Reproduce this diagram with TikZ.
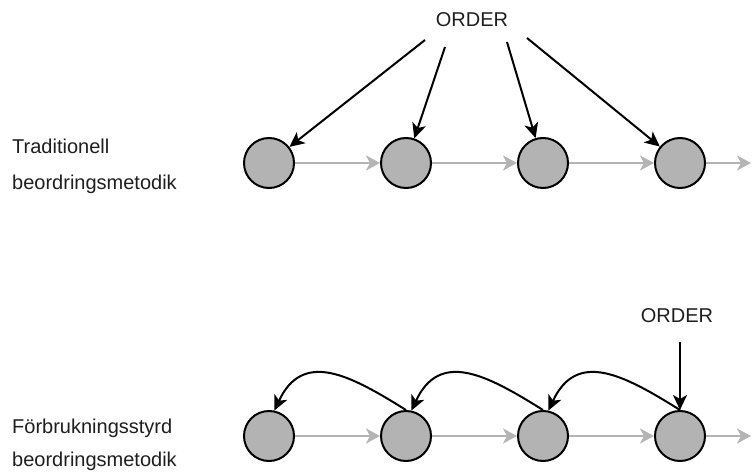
\documentclass[tikz,border=0pt]{standalone}
\usepackage{fontspec}
\setmainfont{Liberation Sans}
\usetikzlibrary{arrows.meta}
\definecolor{discfill}{HTML}{B3B3B3}
\definecolor{flowgray}{HTML}{B4B4B4}
\definecolor{inktext}{HTML}{1E1E1E}
\begin{document}
\begin{tikzpicture}[x=1pt,y=1pt,
  disc/.style={circle,draw=black,line width=2pt,fill=discfill,minimum size=50pt,inner sep=0pt},
  flow/.style={draw=flowgray,line width=2.4pt,-{Stealth[length=14pt,width=15pt,inset=4pt]}},
  order/.style={draw=black,line width=2pt,-{Stealth[length=15pt,width=14pt,inset=4pt]}},
  label/.style={font=\fontsize{20}{24}\selectfont,text=inktext,inner sep=0pt,anchor=base west},
  ordertext/.style={font=\fontsize{20}{24}\selectfont,text=inktext,inner sep=0pt,anchor=base}]
\useasboundingbox (0,0) rectangle (752,472);

% upper chain: traditional ordering
\node[label] (t1) at (12,318) {Traditionell};
\node[label] (t2) at (12,282) {beordringsmetodik};
\foreach \i/\x in {1/269,2/406,3/543,4/680}
  \node[disc] (a\i) at (\x,309) {};
\coordinate (aend) at (751,309);
\draw[flow] (a1) -- (a2);
\draw[flow] (a2) -- (a3);
\draw[flow] (a3) -- (a4);
\draw[flow] (a4) -- (aend);

\node[ordertext] (o1) at (472,445) {ORDER};
\coordinate (s1) at (425,432);
\coordinate (s2) at (445,425);
\coordinate (s3) at (507,430);
\coordinate (s4) at (527,434);
\draw[order] (s1) -- (a1);
\draw[order] (s2) -- (a2);
\draw[order] (s3) -- (a3);
\draw[order] (s4) -- (a4);

% lower chain: consumption-driven ordering
\node[label] (f1) at (12,39) {Förbrukningsstyrd};
\node[label] (f2) at (12,6) {beordringsmetodik};
\foreach \i/\x in {1/269,2/406,3/543,4/680}
  \node[disc] (b\i) at (\x,36) {};
\coordinate (bend) at (751,36);
\draw[flow] (b1) -- (b2);
\draw[flow] (b2) -- (b3);
\draw[flow] (b3) -- (b4);
\draw[flow] (b4) -- (bend);

\node[ordertext] (o2) at (677,150) {ORDER};
\coordinate (s5) at (680,130);
\draw[order] (s5) -- (b4.north);
\draw[order] (b4.north) to[out=148,in=65,looseness=1.3] (b3.78);
\draw[order] (b3.north) to[out=148,in=65,looseness=1.3] (b2.78);
\draw[order] (b2.north) to[out=148,in=65,looseness=1.3] (b1.78);
\end{tikzpicture}
\end{document}
